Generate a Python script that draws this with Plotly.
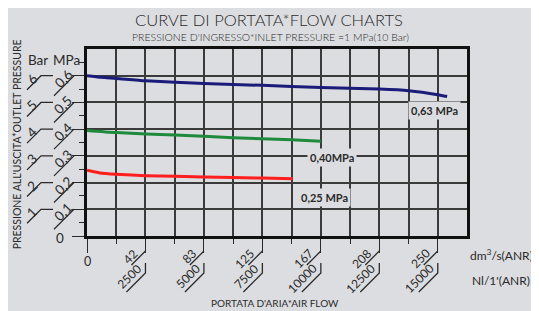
import plotly.graph_objects as go

# ---- data (x in Nl/min ANR, y in MPa) ----
blue_x = [0, 600, 1250, 2500, 5000, 7500, 10000, 12500, 13750, 15000, 15400]
blue_y = [0.600, 0.594, 0.590, 0.581, 0.571, 0.564, 0.556, 0.550, 0.544, 0.529, 0.522]
green_x = [0, 1250, 3750, 6250, 8750, 10000]
green_y = [0.395, 0.387, 0.378, 0.368, 0.360, 0.355]
red_x = [0, 550, 1250, 2500, 5000, 7500, 8800]
red_y = [0.246, 0.236, 0.231, 0.226, 0.221, 0.217, 0.214]

x_major = [0, 2500, 5000, 7500, 10000, 12500, 15000]
x_minor = [1250, 3750, 6250, 8750, 11250, 13750]
x_lab_dm = ["0", "42", "83", "125", "167", "208", "250"]
x_lab_nl = ["", "2500", "5000", "7500", "10000", "12500", "15000"]

y_major = [0, 0.1, 0.2, 0.3, 0.4, 0.5, 0.6]
y_minor = [0.05, 0.15, 0.25, 0.35, 0.45, 0.55, 0.65]
y_lab_mpa = ["0", "0,1", "0,2", "0,3", "0,4", "0,5", "0,6"]
y_lab_bar = ["", "1", "2", "3", "4", "5", "6"]

series_names = ["0,63 MPa", "0,40MPa", "0,25 MPa"]
series_colors = ["#1b1b7a", "#1d8a3c", "#ff1e1e"]
label_pos = [(14850, 0.470), (10470, 0.292), (10140, 0.145)]

BG = "#dcdde0"
FONT = "Lato"
INK = "#2a2a2a"

fig = go.Figure()
for xs, ys, name, col in zip([blue_x, green_x, red_x], [blue_y, green_y, red_y],
                             series_names, series_colors):
    fig.add_trace(go.Scatter(x=xs, y=ys, mode="lines", name=name,
                             line=dict(color=col, width=3, shape="spline", smoothing=0.6),
                             showlegend=False, hoverinfo="skip"))

grid_col = "#3a3a3a"
fig.update_xaxes(range=[0, 16250], showline=True, mirror=True, linewidth=3, linecolor="#111",
                 tickmode="array", tickvals=x_major, showticklabels=False,
                 ticks="outside", ticklen=14, tickwidth=1.3, tickcolor=INK,
                 showgrid=True, gridcolor=grid_col, gridwidth=1.5, zeroline=False,
                 minor=dict(tickmode="array", tickvals=x_minor, ticks="outside", ticklen=5,
                            tickwidth=1.3, tickcolor=INK, showgrid=True, gridcolor=grid_col,
                            gridwidth=1.5))
fig.update_yaxes(range=[0, 0.7], showline=True, mirror=True, linewidth=3, linecolor="#111",
                 tickmode="array", tickvals=y_major, showticklabels=False,
                 ticks="outside", ticklen=12, tickwidth=1.3, tickcolor=INK,
                 showgrid=True, gridcolor=grid_col, gridwidth=1.5, zeroline=False,
                 minor=dict(tickmode="array", tickvals=y_minor, ticks="outside", ticklen=5,
                            tickwidth=1.3, tickcolor=INK, showgrid=False))

shapes = []
ann = []
line_style = dict(color=INK, width=1.3)
C = dict(showarrow=False, xanchor="center", yanchor="middle")


def f(size, weight=400):
    return dict(size=size, color=INK, family=FONT, weight=weight)


# x tick labels + leaders
for v, dm, nl in zip(x_major, x_lab_dm, x_lab_nl):
    if v == 0:
        ann.append(dict(x=v, xref="x", y=0, yref="paper", text=dm, yshift=-25, font=f(12.5), **C))
        continue
    shapes.append(dict(type="line", xref="x", yref="paper", xsizemode="pixel", ysizemode="pixel",
                       xanchor=v, yanchor=0, x0=0, y0=-15, x1=-14, y1=-29, line=line_style))
    shapes.append(dict(type="path", xref="x", yref="paper", xsizemode="pixel", ysizemode="pixel",
                       xanchor=v, yanchor=0, path="M0,-27 L0,-37 L-19,-56", line=line_style))
    h1 = len(dm) * 6.6 / 2 * 0.707
    ann.append(dict(x=v, xref="x", y=0, yref="paper", text=dm, textangle=-45,
                    xshift=-10.5 - h1, yshift=-15.5 - h1, font=f(12), **C))
    h2 = len(nl) * 6.6 / 2 * 0.707
    ann.append(dict(x=v, xref="x", y=0, yref="paper", text=nl, textangle=-45,
                    xshift=-7 - h2, yshift=-31 - h2, font=f(12), **C))

# y tick labels + leaders
for v, mp, br in zip(y_major, y_lab_mpa, y_lab_bar):
    if v == 0:
        ann.append(dict(x=0, xref="paper", y=v, yref="y", text=mp,
                        xshift=-27, yshift=-2, font=f(13.5), **C))
        continue
    shapes.append(dict(type="line", xref="paper", yref="y", xsizemode="pixel", ysizemode="pixel",
                       xanchor=0, yanchor=v, x0=-13, y0=0, x1=-33, y1=-20, line=line_style))
    shapes.append(dict(type="path", xref="paper", yref="y", xsizemode="pixel", ysizemode="pixel",
                       xanchor=0, yanchor=v, path="M-34,0 L-46,0 L-60,-14", line=line_style))
    ann.append(dict(x=0, xref="paper", y=v, yref="y", text=mp, textangle=-45,
                    xshift=-24, yshift=-3, font=f(13.5), **C))
    ann.append(dict(x=0, xref="paper", y=v, yref="y", text=br, textangle=-45,
                    xshift=-55, yshift=-3, font=f(13.5), **C))

# headers
ann.append(dict(x=0, xref="paper", y=1, yref="paper", text="Bar",
                xshift=-49, yshift=-11, font=f(13.5), **C))
ann.append(dict(x=0, xref="paper", y=1, yref="paper", text="MPa",
                xshift=-21, yshift=-11, font=f(13.5), **C))

# series labels
for (lx, ly), name in zip(label_pos, series_names):
    ann.append(dict(x=lx, y=ly, xref="x", yref="y", text="<b>" + name + "</b>",
                    bgcolor=BG, borderpad=2, font=dict(size=11, color=INK, family=FONT), **C))

# titles
ann.append(dict(x=0.479, xref="paper", y=1, yref="paper", yshift=29.5,
                text="CURVE DI PORTATA*FLOW CHARTS", font=f(16.5, 300), **C))
ann.append(dict(x=0.484, xref="paper", y=1, yref="paper", yshift=12,
                text="PRESSIONE D'INGRESSO*INLET PRESSURE =1 MPa(10 Bar)", font=f(10.5, 300), **C))
ann.append(dict(x=0, xref="paper", y=0.49, yref="paper", xshift=-70, textangle=-90,
                text="PRESSIONE ALL'USCITA*OUTLET PRESSURE", font=f(10.5), **C))
ann.append(dict(x=0.495, xref="paper", y=0, yref="paper", yshift=-67,
                text="PORTATA D'ARIA*AIR FLOW", font=f(10), **C))
ann.append(dict(x=1, xref="paper", y=0, yref="paper", xshift=34, yshift=-19,
                text="dm<sup>3</sup>/s(ANR)", font=f(12), **C))
ann.append(dict(x=1, xref="paper", y=0, yref="paper", xshift=34, yshift=-44,
                text="Nl/1'(ANR)", font=f(12), **C))

fig.update_layout(width=539, height=311, margin=dict(l=79, r=80, t=41, b=83),
                  paper_bgcolor=BG, plot_bgcolor=BG, shapes=shapes, annotations=ann,
                  font=dict(family=FONT, color=INK))
fig.write_html("out.html")
